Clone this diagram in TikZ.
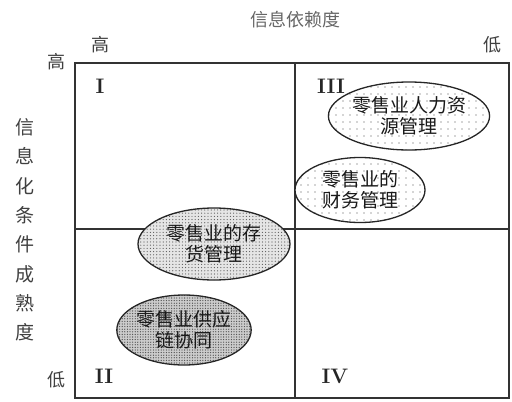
\documentclass[tikz,border=0pt]{standalone}
\usepackage{fontspec}
\newfontfamily\cjk{Noto Sans CJK SC}
\usetikzlibrary{patterns.meta,shapes.geometric}
\begin{document}
\begin{tikzpicture}[x=1pt,y=-1pt,
  frame/.style={draw=black!80,line width=1.8pt},
  lab/.style={font=\cjk\fontsize{18}{20}\selectfont,text=black!75},
  roman/.style={font=\bfseries\fontsize{21}{22}\selectfont,text=black!85},
  ell/.style={draw=black!85,line width=1.3pt,ellipse,inner sep=0pt,align=center,
    font=\cjk\fontsize{19}{21}\selectfont,text=black!90},
  sparse/.style={preaction={fill=white},pattern={Dots[distance=7pt,radius=0.55pt]},pattern color=black!70},
  dense/.style={preaction={fill=black!10},pattern={Dots[distance=3.2pt,radius=0.6pt]},pattern color=black!65},
  denser/.style={preaction={fill=black!20},pattern={Dots[distance=2.6pt,radius=0.65pt]},pattern color=black!70}
]
\useasboundingbox (0,0) rectangle (512,402);
\coordinate (tl) at (75,63);
\coordinate (br) at (509,398);
\coordinate (mt) at (295,63);
\coordinate (mb) at (295,398);
\coordinate (ml) at (75,229);
\coordinate (mr) at (509,229);
\draw[frame] (tl) rectangle (br);
\draw[frame] (mt) -- (mb);
\draw[frame] (ml) -- (mr);

\node[lab,text=black!60] (title) at (295,20) {信息依赖度};
\node[lab] (hightop) at (100,45) {高};
\node[lab] (lowtop) at (492,45) {低};
\node[lab] (highleft) at (56,62) {高};
\node[lab] (lowleft) at (56,380) {低};
\node[lab,align=center,font=\cjk\fontsize{19}{29.3}\selectfont] (vert) at (25,230)
  {信\\息\\化\\条\\件\\成\\熟\\度};

\node[roman] (q1) at (100,86) {I};
\node[roman] (q3) at (331,86) {III};
\node[roman] (q2) at (104,376) {II};
\node[roman] (q4) at (335,376) {IV};

\node[ell,sparse,minimum width=146pt,minimum height=68pt] (hr) at (409,116) {零售业人力资\\源管理};
\node[ell,sparse,minimum width=130pt,minimum height=65pt] (fin) at (360,190) {零售业的\\财务管理};
\node[ell,dense,minimum width=152pt,minimum height=72pt] (inv) at (214,244) {零售业的存\\货管理};
\node[ell,denser,minimum width=128pt,minimum height=70pt] (sc) at (184,330) {零售业供应\\链协同};
\end{tikzpicture}
\end{document}
